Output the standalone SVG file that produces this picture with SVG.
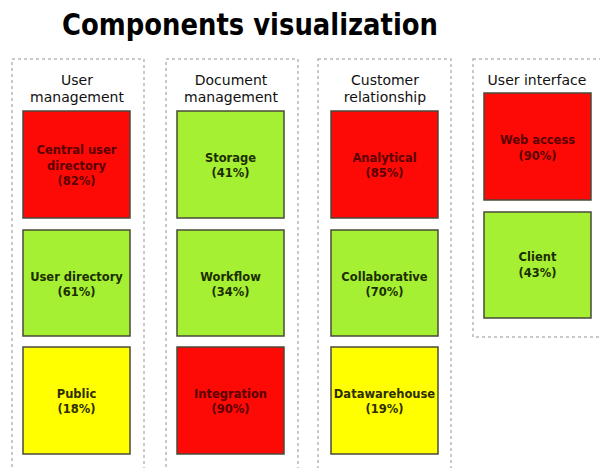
<svg xmlns="http://www.w3.org/2000/svg" width="600" height="468" viewBox="0 0 600 468">
<style>
.title{font-family:"DejaVu Sans",Verdana,sans-serif;font-weight:bold;font-size:30px;fill:#000}
.grp{fill:none;stroke:#b8b8b8;stroke-width:1.5;stroke-dasharray:3,3}
.hdr{font-family:"DejaVu Sans",Verdana,sans-serif;font-size:14px;fill:#111;text-anchor:middle}
.box{stroke:#4a4a3a;stroke-width:1.5}
.red{fill:#fe0a06}
.grn{fill:#a5f032}
.yel{fill:#ffff00}
.lbl{font-family:"DejaVu Sans",Verdana,sans-serif;font-weight:bold;font-size:11.5px;text-anchor:middle}
.tr{fill:#5a0000}
.tg{fill:#1c2e00}
.ty{fill:#2e2e00}
</style>
<rect width="600" height="468" fill="#fff"/>
<text class="title" x="250" y="35" text-anchor="middle" textLength="376" lengthAdjust="spacingAndGlyphs">Components visualization</text>

<g id="group-user-management">
<rect class="grp" x="12" y="59" width="132" height="420"/>
<text class="hdr" x="77" y="85">User</text>
<text class="hdr" x="77" y="102">management</text>
</g>
<g id="group-document-management">
<rect class="grp" x="166" y="59" width="132" height="420"/>
<text class="hdr" x="231" y="85">Document</text>
<text class="hdr" x="231" y="102">management</text>
</g>
<g id="group-customer-relationship">
<rect class="grp" x="318" y="59" width="133" height="420"/>
<text class="hdr" x="385" y="85">Customer</text>
<text class="hdr" x="385" y="102">relationship</text>
</g>
<g id="group-user-interface">
<rect class="grp" x="473" y="59" width="140" height="278"/>
<text class="hdr" x="537" y="85">User interface</text>
</g>

<g id="node-central-user-directory">
<rect class="box red" x="23" y="111" width="107" height="107"/>
<text class="lbl tr" x="76.5" y="154">Central user</text>
<text class="lbl tr" x="76.5" y="170">directory</text>
<text class="lbl tr" x="76.5" y="185">(82%)</text>
</g>
<g id="node-user-directory">
<rect class="box grn" x="23" y="230" width="107" height="106"/>
<text class="lbl tg" x="76.5" y="281">User directory</text>
<text class="lbl tg" x="76.5" y="296">(61%)</text>
</g>
<g id="node-public">
<rect class="box yel" x="23" y="347" width="107" height="107"/>
<text class="lbl ty" x="76.5" y="398">Public</text>
<text class="lbl ty" x="76.5" y="413">(18%)</text>
</g>

<g id="node-storage">
<rect class="box grn" x="177" y="111" width="107" height="107"/>
<text class="lbl tg" x="230.5" y="162">Storage</text>
<text class="lbl tg" x="230.5" y="177">(41%)</text>
</g>
<g id="node-workflow">
<rect class="box grn" x="177" y="230" width="107" height="106"/>
<text class="lbl tg" x="230.5" y="281">Workflow</text>
<text class="lbl tg" x="230.5" y="296">(34%)</text>
</g>
<g id="node-integration">
<rect class="box red" x="177" y="347" width="107" height="107"/>
<text class="lbl tr" x="230.5" y="398">Integration</text>
<text class="lbl tr" x="230.5" y="413">(90%)</text>
</g>

<g id="node-analytical">
<rect class="box red" x="331" y="111" width="107" height="107"/>
<text class="lbl tr" x="384.5" y="162">Analytical</text>
<text class="lbl tr" x="384.5" y="177">(85%)</text>
</g>
<g id="node-collaborative">
<rect class="box grn" x="331" y="230" width="107" height="106"/>
<text class="lbl tg" x="384.5" y="281">Collaborative</text>
<text class="lbl tg" x="384.5" y="296">(70%)</text>
</g>
<g id="node-datawarehouse">
<rect class="box yel" x="331" y="347" width="107" height="107"/>
<text class="lbl ty" x="384.5" y="398">Datawarehouse</text>
<text class="lbl ty" x="384.5" y="413">(19%)</text>
</g>

<g id="node-web-access">
<rect class="box red" x="484" y="93" width="107" height="107"/>
<text class="lbl tr" x="537.5" y="144">Web access</text>
<text class="lbl tr" x="537.5" y="160">(90%)</text>
</g>
<g id="node-client">
<rect class="box grn" x="484" y="212" width="107" height="106"/>
<text class="lbl tg" x="537.5" y="261">Client</text>
<text class="lbl tg" x="537.5" y="277">(43%)</text>
</g>

<g id="connectors"></g>
</svg>
